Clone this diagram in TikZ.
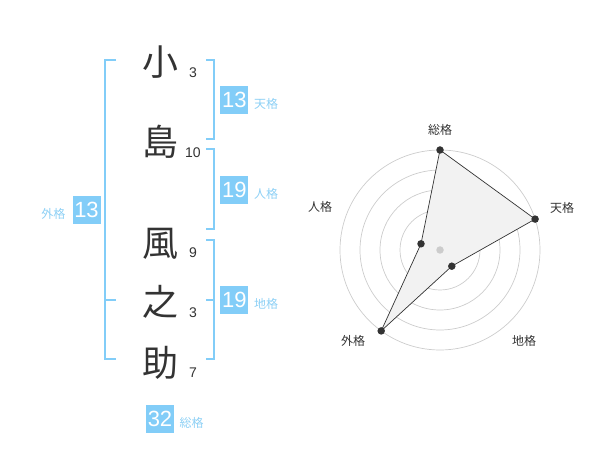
\documentclass[tikz,border=0pt]{standalone}
\usepackage{fontspec}
\setmainfont{Noto Sans CJK JP}
\newfontfamily\digitfont{Liberation Sans}
\definecolor{kbox}{HTML}{82CDF8}
\definecolor{klabel}{HTML}{8DD0F5}
\definecolor{kdark}{HTML}{333333}
\definecolor{kgrid}{HTML}{CCCCCC}
\definecolor{kfill}{HTML}{F2F2F2}
\begin{document}
\begin{tikzpicture}[x=1pt,y=-1pt,
  kanji/.style={text=kdark,font=\fontsize{36}{36}\selectfont,inner sep=0},
  stroke/.style={text=kdark,font=\digitfont\fontsize{14}{14}\selectfont,inner sep=0},
  numbox/.style={fill=kbox,text=white,minimum size=28pt,inner sep=0,font=\digitfont\fontsize{22}{22}\selectfont},
  boxlabel/.style={text=klabel,font=\fontsize{12}{12}\selectfont,inner sep=0},
  bracket/.style={draw=kbox,line width=1.7pt},
  grid/.style={draw=kgrid,line width=0.7pt},
  axislabel/.style={text=kdark,font=\fontsize{12}{12}\selectfont,inner sep=0},
  dot/.style={circle,fill=kdark,inner sep=0,minimum size=7.5pt}]
\useasboundingbox (0,0) rectangle (600,470);
% characters
\node[kanji] (c1) at (160,62) {小};
\node[kanji] (c2) at (160,142) {島};
\node[kanji] (c3) at (160,244) {風};
\node[kanji] (c4) at (160,302) {之};
\node[kanji] (c5) at (160,363) {助};
\node[stroke] (s1) at (193,73) {3};
\node[stroke] (s2) at (193,153) {10};
\node[stroke] (s3) at (193,253) {9};
\node[stroke] (s4) at (193,313) {3};
\node[stroke] (s5) at (193,373) {7};
% brackets
\draw[bracket] (116,60) -- (105,60) -- (105,359) -- (116,359);
\draw[bracket] (105,300) -- (116,300);
\draw[bracket] (206,60) -- (214,60) -- (214,139) -- (206,139);
\draw[bracket] (206,149) -- (214,149) -- (214,229) -- (206,229);
\draw[bracket] (206,240) -- (214,240) -- (214,359) -- (206,359);
\draw[bracket] (206,300) -- (214,300);
% boxes
\node[numbox] (ten) at (234.3,100) {13};
\node[boxlabel,anchor=west] (tenl) at (254,103.5) {天格};
\node[numbox] (jin) at (234.3,190) {19};
\node[boxlabel,anchor=west] (jinl) at (254,193.5) {人格};
\node[numbox] (chi) at (234.3,300) {19};
\node[boxlabel,anchor=west] (chil) at (254,303.5) {地格};
\node[numbox] (gai) at (86.5,210) {13};
\node[boxlabel,anchor=east] (gail) at (65.5,213.5) {外格};
\node[numbox] (sou) at (160,419) {32};
\node[boxlabel,anchor=west] (soul) at (179.5,422.5) {総格};
% radar
\foreach \r in {20,40,60,80,100} \draw[grid] (440,250) circle[radius=\r];
\coordinate (pS) at (440,150);
\coordinate (pT) at (535.1,219.1);
\coordinate (pC) at (451.8,266.2);
\coordinate (pG) at (381.2,330.9);
\coordinate (pJ) at (421,243.8);
\filldraw[fill=kfill,draw=kdark,line width=0.7pt] (pS) -- (pT) -- (pC) -- (pG) -- (pJ) -- cycle;
\node[circle,fill=kgrid,inner sep=0,minimum size=7.5pt] (ctr) at (440,250) {};
\foreach \p in {pS,pT,pC,pG,pJ} \node[dot] at (\p) {};
\node[axislabel] (lS) at (440,130) {総格};
\node[axislabel] (lT) at (562,208) {天格};
\node[axislabel] (lC) at (524,341) {地格};
\node[axislabel] (lG) at (353,341) {外格};
\node[axislabel] (lJ) at (320,207) {人格};
\end{tikzpicture}
\end{document}
